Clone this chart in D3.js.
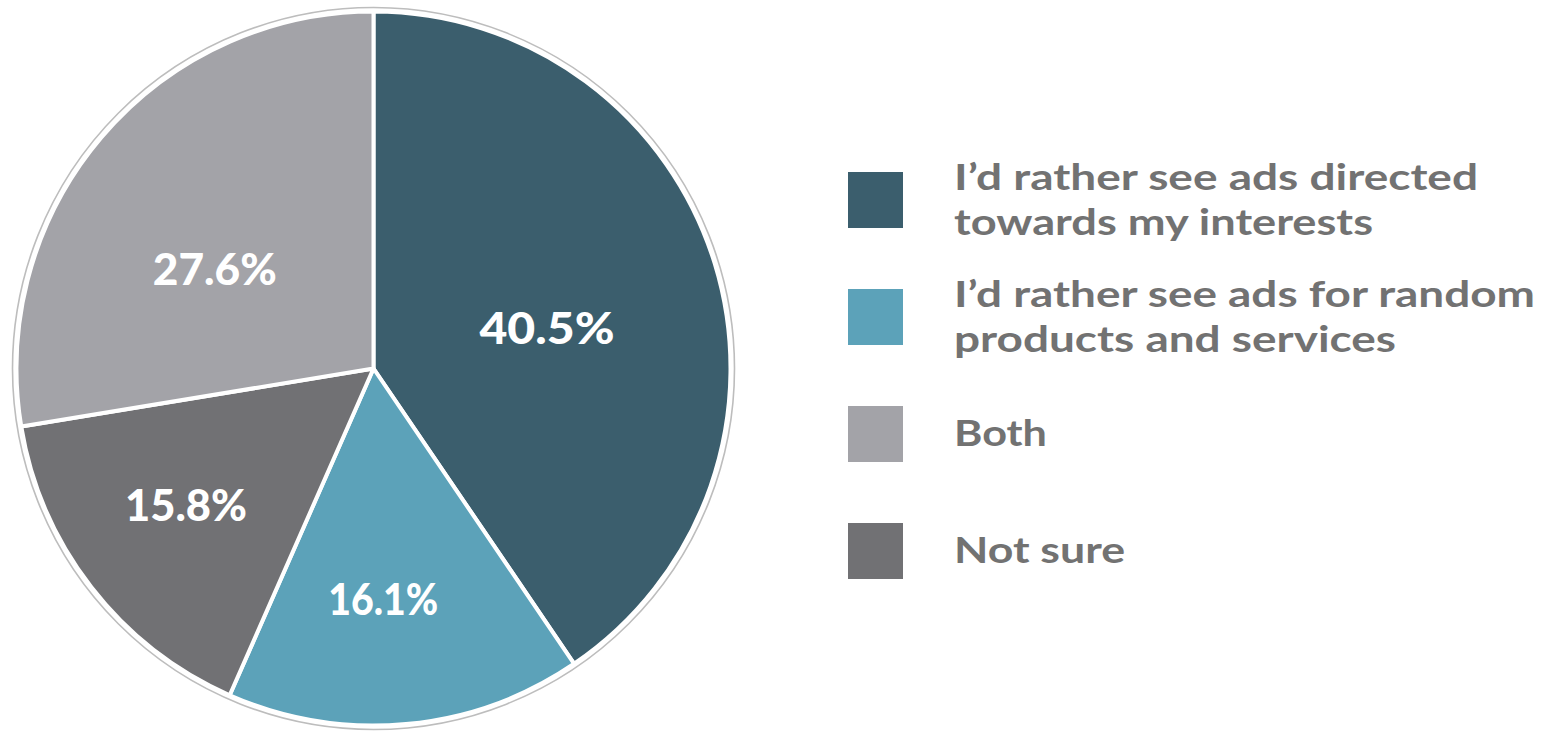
<!DOCTYPE html>
<html>
<head>
<meta charset="utf-8">
<script src="https://cdn.jsdelivr.net/npm/d3@7"></script>
<style>
  html, body { margin: 0; padding: 0; background: #ffffff; }
  svg { display: block; }
</style>
</head>
<body>
<svg id="chart" width="1551" height="733"></svg>
<script>
// ---- data ----
const categories = [
  "I\u2019d rather see ads directed towards my interests",
  "I\u2019d rather see ads for random products and services",
  "Both",
  "Not sure"
];
const values = [40.5, 16.1, 27.6, 15.8];
const legendLines = [
  ["I\u2019d rather see ads directed", "towards my interests"],
  ["I\u2019d rather see ads for random", "products and services"],
  ["Both"],
  ["Not sure"]
];
// order of slices clockwise from 12 o'clock
const sliceOrder = [0, 1, 3, 2];
const colors = ["#3b5e6d", "#5ca2b9", "#a3a3a8", "#717174"];

// ---- layout ----
const cx = 373.5, cy = 368.5, R = 357;
const ringR = 361;
const labelLayout = { 0: {r: 178, da: 4.1}, 1: {r: 231, da: 2.8}, 3: {r: 232, da: 1.7}, 2: {r: 187, da: -8.4} };
// rendered widths (px) that match the reference's wide geometric typeface
const labelWidths = { 0: 135, 1: 110, 2: 124, 3: 122 };
const legendWidths = [[524, 419], [581, 442], [93], [171]];

const svg = d3.select("#chart");
const g = svg.append("g").attr("transform", `translate(${cx},${cy})`);

const data = sliceOrder.map(i => ({ i, value: values[i] }));
const pie = d3.pie().value(d => d.value).sort(null);
const arcs = pie(data);
const arc = d3.arc().innerRadius(0).outerRadius(R);
const color = d3.scaleOrdinal().domain(d3.range(categories.length)).range(colors);

// outer thin ring
g.append("circle").attr("r", ringR).attr("fill", "none")
  .attr("stroke", "#bdbdbd").attr("stroke-width", 1.6);

g.selectAll("path.slice").data(arcs).join("path")
  .attr("class", "slice")
  .attr("d", arc)
  .attr("fill", d => color(d.data.i))
  .attr("stroke", "#ffffff")
  .attr("stroke-width", 4)
  .attr("stroke-linejoin", "round");

// labels
g.selectAll("text.lbl").data(arcs).join("text")
  .attr("class", "lbl")
  .each(function(d) {
    const L = labelLayout[d.data.i];
    const mid = (d.startAngle + d.endAngle) / 2 + L.da * Math.PI / 180;
    const [x, y] = d3.pointRadial(mid, L.r);
    d3.select(this).attr("x", x).attr("y", y + 15.5);
  })
  .attr("text-anchor", "middle")
  .attr("fill", "#ffffff")
  .attr("font-family", "Lato, 'Open Sans', sans-serif")
  .attr("font-weight", 900)
  .attr("font-size", 44)
  .attr("textLength", d => labelWidths[d.data.i])
  .attr("lengthAdjust", "spacingAndGlyphs")
  .text(d => d.data.value.toFixed(1) + "%");

// legend
const legendX = 848, textX = 954;
const squareTops = [172, 289, 406, 523];
const sq = 55;
const lineGap = 45;
const legend = svg.append("g");

categories.forEach((c, i) => {
  legend.append("rect")
    .attr("x", legendX).attr("y", squareTops[i])
    .attr("width", sq).attr("height", sq + 1)
    .attr("fill", colors[i]);
  const lines = legendLines[i];
  const cyL = squareTops[i] + sq / 2;
  lines.forEach((ln, j) => {
    const yC = cyL + (j - (lines.length - 1) / 2) * lineGap;
    legend.append("text")
      .attr("x", textX).attr("y", yC + 12.5)
      .attr("fill", "#727272")
      .attr("font-family", "Lato, 'Open Sans', sans-serif")
      .attr("font-weight", 700)
      .attr("font-size", 36)
      .attr("textLength", legendWidths[i][j])
      .attr("lengthAdjust", "spacingAndGlyphs")
      .text(ln);
  });
});
</script>
</body>
</html>
